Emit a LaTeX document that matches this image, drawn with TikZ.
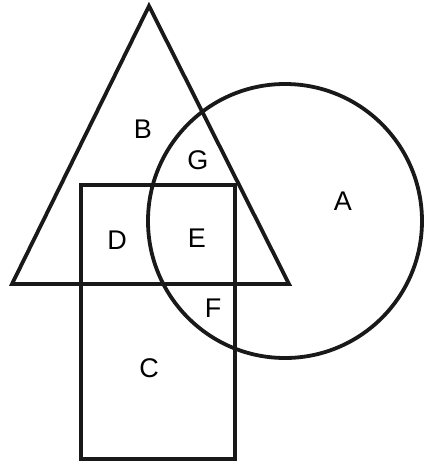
\documentclass[tikz,border=0pt]{standalone}
\usepackage{fontspec}
\setmainfont{Liberation Sans}
\begin{document}
\begin{tikzpicture}[x=1pt,y=-1pt,
  shapeline/.style={line width=3.8pt,line join=miter,black!90},
  lab/.style={font=\fontsize{27}{27}\selectfont,inner sep=0pt,anchor=center}]
\useasboundingbox (0,0) rectangle (428,467);
\draw[shapeline] (149,6) -- (289,284) -- (12,284) -- cycle;
\draw[shapeline] (285,221) circle[radius=137];
\draw[shapeline] (81,185) rectangle (235,459);
\node[lab] (B) at (143,129) {B};
\node[lab] (G) at (198,160) {G};
\node[lab] (A) at (343,201) {A};
\node[lab] (D) at (117,240) {D};
\node[lab] (E) at (197,238) {E};
\node[lab] (F) at (213,308) {F};
\node[lab] (C) at (149,368) {C};
\end{tikzpicture}
\end{document}
